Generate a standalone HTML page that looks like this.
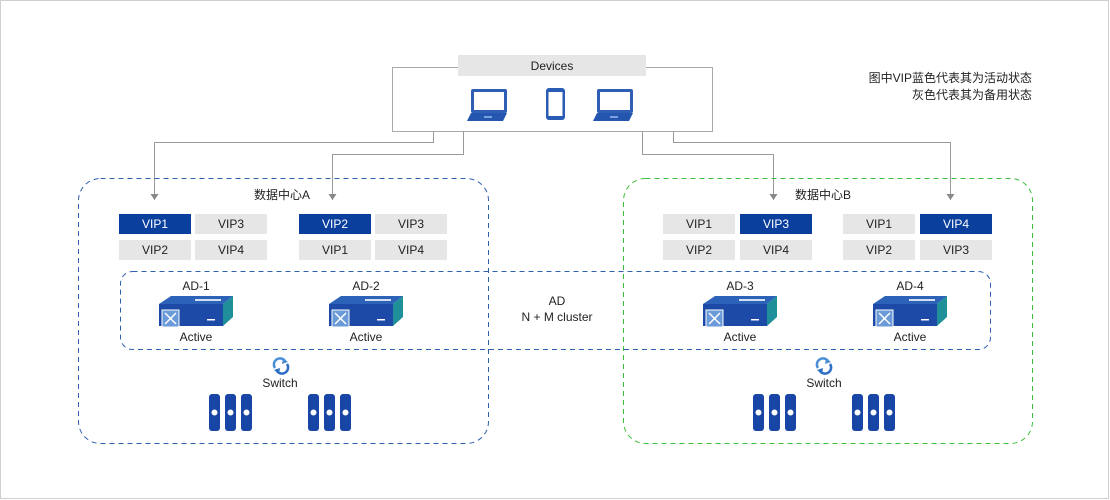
<!DOCTYPE html>
<html><head><meta charset="utf-8"><style>
html,body{margin:0;padding:0;background:#fff;}
svg{display:block;font-family:"Liberation Sans","Noto Sans CJK SC",sans-serif;}
</style></head><body>
<svg width="1110" height="500" viewBox="0 0 1110 500" xmlns="http://www.w3.org/2000/svg">
<defs>
<marker id="ar" markerWidth="8" markerHeight="8" refX="4" refY="6" orient="0" markerUnits="userSpaceOnUse">
<path d="M0,0 L4,6 L8,0 Z" fill="#888"/></marker>
<g id="lap">
<rect x="4" y="0" width="36" height="24" rx="2" fill="#2f5fb5"/>
<rect x="7" y="3" width="30" height="18" fill="#fff"/>
<path d="M4,24 L40,24 L36,32 L0,32 Z" fill="#2456b0"/>
<rect x="17" y="27" width="8" height="2" fill="#7aa0e0"/>
</g>
<g id="ad">
<polygon points="4,9 16,1 78,1 68,9" fill="#2c63b8"/>
<polygon points="68,9 78,1 78,22 68,31" fill="#1f8f9a"/>
<rect x="4" y="9" width="64" height="22" fill="#1d4aa6"/>
<rect x="7" y="15" width="17" height="17" fill="#6a9ad8" stroke="#fff" stroke-width="1"/>
<path d="M10,18 L21,29 M21,18 L10,29" stroke="#fff" stroke-width="1.5"/>
<rect x="40" y="4" width="26" height="2" fill="#fff" opacity="0.8"/>
<rect x="52" y="24" width="8" height="1.5" fill="#fff"/>
</g>
<g id="srv">
<rect x="0" y="0" width="11" height="37" rx="3" fill="#1846a6"/>
<rect x="16" y="0" width="11" height="37" rx="3" fill="#1846a6"/>
<rect x="32" y="0" width="11" height="37" rx="3" fill="#1846a6"/>
<circle cx="5.5" cy="18.5" r="3" fill="#fff"/><circle cx="21.5" cy="18.5" r="3" fill="#fff"/><circle cx="37.5" cy="18.5" r="3" fill="#fff"/>
</g>
<g id="sw">
<path d="M-6,2 A6,6 0 0 1 4,-5" stroke="#4a8fd6" stroke-width="2.5" fill="none"/>
<path d="M2,-8 L7,-4 L1,-2 Z" fill="#4a8fd6"/>
<path d="M6,-2 A6,6 0 0 1 -4,5" stroke="#2c6fc4" stroke-width="2.5" fill="none"/>
<path d="M-2,8 L-7,4 L-1,2 Z" fill="#2c6fc4"/>
</g>
</defs>
<rect x="0.5" y="0.5" width="1108" height="498" fill="#fff" stroke="#cfcfcf"/>
<!-- devices -->
<rect x="392.5" y="67.5" width="320" height="64" fill="#fff" stroke="#aaa"/>
<rect x="458" y="55" width="188" height="21" fill="#e6e6e6"/>
<text x="552" y="70" font-size="12" text-anchor="middle" fill="#222">Devices</text>
<use href="#lap" x="467" y="89"/>
<rect x="546" y="88" width="19" height="32" rx="3" fill="#2a5bb5"/>
<rect x="548.5" y="92" width="14" height="24" fill="#fff"/>
<use href="#lap" x="593" y="89"/>
<g stroke="#999" fill="none" stroke-width="1">
<path d="M433.5,131 V142.5 H154.5 V200" marker-end="url(#ar)"/>
<path d="M463.5,131 V154.5 H332.5 V200" marker-end="url(#ar)"/>
<path d="M642.5,131 V154.5 H773.5 V200" marker-end="url(#ar)"/>
<path d="M673.5,131 V142.5 H950.5 V200" marker-end="url(#ar)"/>
</g>
<!-- DCs -->
<rect x="78.5" y="178.5" width="410" height="265" rx="22" fill="none" stroke="#2e5fb0" stroke-dasharray="5,4"/>
<rect x="623.5" y="178.5" width="409" height="265" rx="22" fill="none" stroke="#3cbf3c" stroke-dasharray="5,4"/>
<text x="282" y="199" font-size="12" text-anchor="middle" fill="#222">数据中心A</text>
<text x="823" y="199" font-size="12" text-anchor="middle" fill="#222">数据中心B</text>
<g font-size="12" text-anchor="middle">
<rect x="119" y="214" width="72" height="20" fill="#0b3f9e"/><text x="155" y="228" fill="#fff">VIP1</text>
<rect x="195" y="214" width="72" height="20" fill="#e6e6e6"/><text x="231" y="228" fill="#222">VIP3</text>
<rect x="119" y="240" width="72" height="20" fill="#e6e6e6"/><text x="155" y="254" fill="#222">VIP2</text>
<rect x="195" y="240" width="72" height="20" fill="#e6e6e6"/><text x="231" y="254" fill="#222">VIP4</text>
<rect x="299" y="214" width="72" height="20" fill="#0b3f9e"/><text x="335" y="228" fill="#fff">VIP2</text>
<rect x="375" y="214" width="72" height="20" fill="#e6e6e6"/><text x="411" y="228" fill="#222">VIP3</text>
<rect x="299" y="240" width="72" height="20" fill="#e6e6e6"/><text x="335" y="254" fill="#222">VIP1</text>
<rect x="375" y="240" width="72" height="20" fill="#e6e6e6"/><text x="411" y="254" fill="#222">VIP4</text>
<rect x="663" y="214" width="72" height="20" fill="#e6e6e6"/><text x="699" y="228" fill="#222">VIP1</text>
<rect x="740" y="214" width="72" height="20" fill="#0b3f9e"/><text x="776" y="228" fill="#fff">VIP3</text>
<rect x="663" y="240" width="72" height="20" fill="#e6e6e6"/><text x="699" y="254" fill="#222">VIP2</text>
<rect x="740" y="240" width="72" height="20" fill="#e6e6e6"/><text x="776" y="254" fill="#222">VIP4</text>
<rect x="843" y="214" width="72" height="20" fill="#e6e6e6"/><text x="879" y="228" fill="#222">VIP1</text>
<rect x="920" y="214" width="72" height="20" fill="#0b3f9e"/><text x="956" y="228" fill="#fff">VIP4</text>
<rect x="843" y="240" width="72" height="20" fill="#e6e6e6"/><text x="879" y="254" fill="#222">VIP2</text>
<rect x="920" y="240" width="72" height="20" fill="#e6e6e6"/><text x="956" y="254" fill="#222">VIP3</text>
</g>
<rect x="120.5" y="271.5" width="870" height="78" rx="12" fill="none" stroke="#2e5fb0" stroke-dasharray="5,4"/>
<g font-size="12" text-anchor="middle" fill="#222">
<text x="196" y="290">AD-1</text><text x="196" y="341">Active</text>
<text x="366" y="290">AD-2</text><text x="366" y="341">Active</text>
<text x="740" y="290">AD-3</text><text x="740" y="341">Active</text>
<text x="910" y="290">AD-4</text><text x="910" y="341">Active</text>
<text x="557" y="305">AD</text><text x="557" y="321">N + M cluster</text>
<text x="280" y="387">Switch</text><text x="824" y="387">Switch</text>
</g>
<use href="#ad" x="155" y="295"/><use href="#ad" x="325" y="295"/>
<use href="#ad" x="699" y="295"/><use href="#ad" x="869" y="295"/>
<use href="#sw" x="281" y="366"/><use href="#sw" x="824" y="366"/>
<use href="#srv" x="209" y="394"/><use href="#srv" x="308" y="394"/>
<use href="#srv" x="753" y="394"/><use href="#srv" x="852" y="394"/>
<g font-size="12" text-anchor="end" fill="#222">
<text x="1032" y="82">图中VIP蓝色代表其为活动状态</text>
<text x="1032" y="99">灰色代表其为备用状态</text>
</g>
</svg>
</body></html>
